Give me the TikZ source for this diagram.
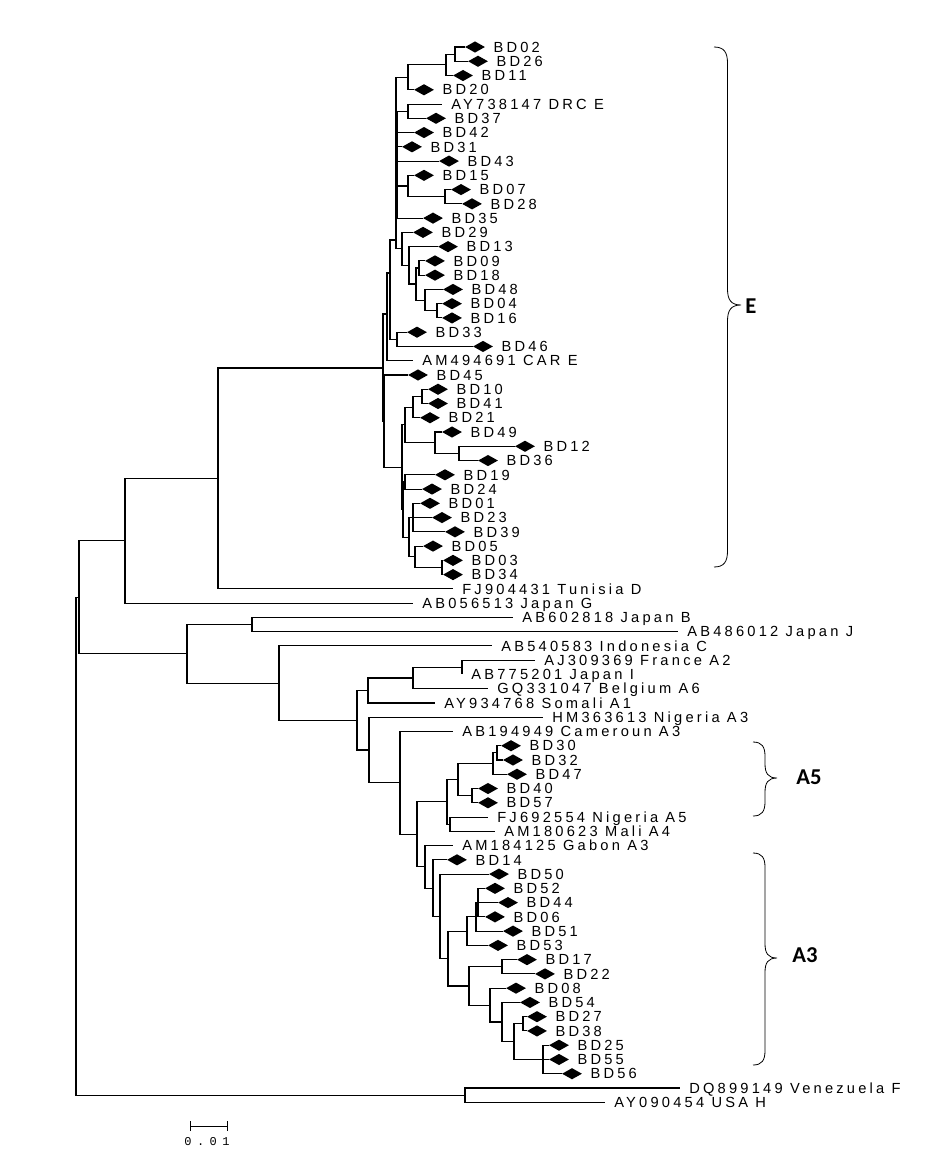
\documentclass[tikz,border=0pt]{standalone}
\usepackage{fontspec}
\usetikzlibrary{positioning,shapes.geometric,arrows.meta}
\newfontfamily\treefont[LetterSpace=22]{Liberation Sans}
\newfontfamily\cladefont{Carlito}
\newfontfamily\barfont[LetterSpace=45]{Liberation Mono}
% curly clade brace: x of ends, top, tip, bottom, depth
\newcommand{\cladebrace}[5]{%
	\draw[clbrace] (#1,#2) .. controls ({#1+0.75*#5},#2) and ({#1+#5},{#2+0.4*#5}) .. ({#1+#5},{#2+1.2*#5})
	-- ({#1+#5},{#3-1.2*#5}) .. controls ({#1+#5},{#3-0.4*#5}) and ({#1+1.25*#5},#3) .. ({#1+2*#5},#3)
	.. controls ({#1+1.25*#5},#3) and ({#1+#5},{#3+0.4*#5}) .. ({#1+#5},{#3+1.2*#5})
	-- ({#1+#5},{#4-1.2*#5}) .. controls ({#1+#5},{#4-0.4*#5}) and ({#1+0.75*#5},#4) .. (#1,#4);}
\begin{document}
\begin{tikzpicture}[
		x=0.75pt, y=-0.75pt,
		branch/.style={line width=0.8pt},
		bdmark/.style={diamond, fill=black, inner sep=0pt, minimum width=15pt, minimum height=8.5pt},
		leafname/.style={font=\treefont\fontsize{11}{12}\selectfont, anchor=west, inner sep=0pt, text height=7.8pt, text depth=0pt},
		refname/.style={leafname, inner xsep=6.75pt},
		cladename/.style={font=\cladefont\bfseries\fontsize{17}{20}\selectfont, anchor=west, inner sep=0pt},
		clbrace/.style={line width=0.6pt}
		]
		\useasboundingbox (0,0) rectangle (929,1157);
		% isolates
		\foreach \nm/\cx/\r in {BD02/475/0, BD26/478/1, BD11/463/2, BD20/424/3, BD37/436/5, BD42/424/6, BD31/412/7, BD43/449/8, BD15/424/9, BD07/461/10, BD28/472/11, BD35/433/12, BD29/423/13, BD13/448/14, BD09/435/15, BD18/435/16, BD48/453/17, BD04/452/18, BD16/452/19, BD33/417/20, BD46/483/21, BD45/418/23, BD10/438/24, BD41/438/25, BD21/430/26, BD49/452/27, BD12/525/28, BD36/488/29, BD19/445/30, BD24/432/31, BD01/430/32, BD23/442/33, BD39/455/34, BD05/433/35, BD03/453/36, BD34/453/37, BD30/511/49, BD32/513/50, BD47/517/51, BD40/488/52, BD57/488/53, BD14/457/57, BD50/499/58, BD52/495/59, BD44/508/60, BD06/495/61, BD51/513/62, BD53/498/63, BD17/527/64, BD22/545/65, BD08/516/66, BD54/530/67, BD27/537/68, BD38/537/69, BD25/559/70, BD55/559/71, BD56/572/72}
		{
			\node[bdmark] (\nm) at (\cx,{47+14.26*\r}) {};
			\node[leafname, right=6pt of \nm] (l\nm) {\nm};
		}
		% reference strains
		\foreach \nm/\tx/\r/\txt in {ay738147/442/4/AY738147 DRC E, am494691/413/22/AM494691 CAR E, fj904431/453/38/FJ904431 Tunisia D, ab056513/413/39/AB056513 Japan G, ab602818/513/40/AB602818 Japan B, ab486012/678/41/AB486012 Japan J, ab540583/492/42/AB540583 Indonesia C, aj309369/535/43/AJ309369 France A2, ab775201/462/44/AB775201 Japan I, gq331047/488/45/GQ331047 Belgium A6, ay934768/435/46/AY934768 Somali A1, hm363613/543/47/HM363613 Nigeria A3, ab194949/453/48/AB194949 Cameroun A3, fj692554/488/54/FJ692554 Nigeria A5, am180623/495/55/AM180623 Mali A4, am184125/453/56/AM184125 Gabon A3, dq899149/680/73/DQ899149 Venezuela F, ay090454/605/74/AY090454 USA H}
			\node[refname] (\nm) at (\tx,{47+14.26*\r}) {\txt};
		% internal nodes
		\foreach \nm/\nx/\ny in {root/76/846.2, n79/79/597.3, n125/125/540.8, n218/218/478.5, W/383/368, W2/384/421, V2/387/314, V/390/273, Ub/396/240, Ua/397/165, s/397/339.3, e1/455/54.1, e2/446/64.8, e3/408/77.3, e4/408/111.2, e5/445/196.7, e6/408/186, e7/419/268, e8/437/310.8, e9/425/300.1, e10/416/284, e11/409/265.3, e12/402/248.9, e13/422/396.4, e14/413/407.1, e15/459/453.4, e16/435/442.7, e17/405/424.9, e18/405/482, e19/413/517.6, e20/442/567.5, e21/415/556.8, e22/409/537.2, e23/403/509.6, e24/402/467.3, a1/252/624.5, a2/462/667.3, a3/413/678, a4/368/690.5, a6/417/834.4, a7/400/782.9, a8/369/750, a9/357/720.3, a10/279/683.1, a11/187/653.8, f1/497/752.9, f2/493/763.6, f3/472/795.7, f4/458/779.6, f5/450/824.2, f6/447/801.9, g1/478/902.6, g2/476/916.8, g3/467/931.1, g4/502/966.8, g5/523/1023.8, g6/543/1059.5, g7/514/1041.6, g8/502/1022, g9/490/1005.1, g10/469/986, g11/448/958.5, g12/440/916.3, g13/433/888.1, g14/425/866.8, fh/465/1095.1}
			\coordinate (\nm) at (\nx,\ny);
		% branches
		\foreach \pn/\cn in {root/n79, root/fh, n79/n125, n79/a11, n125/n218, n125/ab056513.west, n218/W, n218/fj904431.west,
			W/V2, W/W2, V2/V, V2/am494691.west, V/Ub, V/s, Ub/e3, Ub/Ua, Ub/e12,
			e3/e2, e3/BD20.west, e2/e1, e2/BD11.west, e1/BD02.west, e1/BD26.west,
			Ua/e4, Ua/BD42.west, Ua/BD31.west, Ua/BD43.west, Ua/e6, Ua/BD35.west,
			e4/ay738147.west, e4/BD37.west, e6/BD15.west, e6/e5, e5/BD07.west, e5/BD28.west,
			e12/BD29.west, e12/e11, e11/BD13.west, e11/e10, e10/e7, e10/e9,
			e7/BD09.west, e7/BD18.west, e9/BD48.west, e9/e8, e8/BD04.west, e8/BD16.west,
			s/BD33.west, s/BD46.west, W2/BD45.west, W2/e24, e24/e17, e24/e23,
			e17/e14, e17/e16, e14/e13, e14/BD21.west, e13/BD10.west, e13/BD41.west,
			e16/BD49.west, e16/e15, e15/BD12.west, e15/BD36.west,
			e23/e18, e23/e22, e18/BD19.west, e18/BD24.west, e22/e19, e22/e21,
			e19/BD01.west, e19/BD23.west, e19/BD39.west, e21/BD05.west, e21/e20, e20/BD03.west, e20/BD34.west,
			a11/a1, a11/a10, a1/ab602818.west, a1/ab486012.west, a10/ab540583.west, a10/a9,
			a9/a4, a9/a8, a4/a3, a4/ay934768.west, a3/a2, a3/gq331047.west, a2/aj309369.west, a2/ab775201.west,
			a8/hm363613.west, a8/a7, a7/ab194949.west, a7/a6, a6/f6, a6/g14,
			f6/f4, f6/f5, f4/f2, f4/f3, f2/f1, f2/BD47.west, f1/BD30.west, f1/BD32.west,
			f3/BD40.west, f3/BD57.west, f5/fj692554.west, f5/am180623.west,
			g14/am184125.west, g14/g13, g13/BD14.west, g13/g12, g12/BD50.west, g12/g11,
			g11/g3, g11/g10, g3/g2, g3/BD53.west, g2/g1, g2/BD51.west,
			g1/BD52.west, g1/BD44.west, g1/BD06.west, g10/g4, g10/g9, g4/BD17.west, g4/BD22.west,
			g9/BD08.west, g9/g8, g8/BD54.west, g8/g7, g7/g5, g7/g6,
			g5/BD27.west, g5/BD38.west, g6/BD25.west, g6/BD55.west, g6/BD56.west,
			fh/dq899149.west, fh/ay090454.west}
			\draw[branch] (\pn) |- (\cn);
		% clades
		\cladebrace{714}{47}{305}{567}{13.5}
		\cladebrace{753}{742}{778}{816}{12}
		\cladebrace{753}{853}{958}{1065}{12}
		\node[cladename] (cladeE) at (745,306) {E};
		\node[cladename] (cladeA5) at (796,777) {A5};
		\node[cladename] (cladeA3) at (792,955) {A3};
		% scale bar
		\coordinate (bar0) at (190,1126);
		\coordinate (bar1) at (228,1126);
		\draw[{Bar[width=7.5pt]}-{Bar[width=7.5pt]}, line width=0.7pt] (bar0) -- (bar1);
		\node[font=\barfont\fontsize{9}{10}\selectfont, inner sep=0pt] (barlbl) at (207,1142) {0.01};
	\end{tikzpicture}
\end{document}
